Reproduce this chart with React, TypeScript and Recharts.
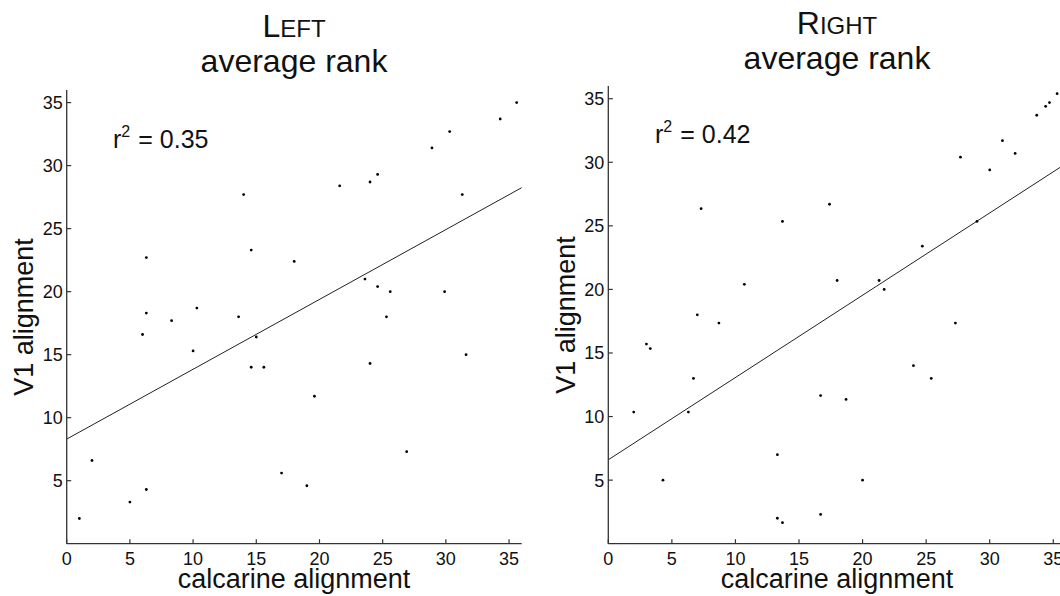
import React from "react"
import { ScatterChart, Scatter, XAxis, YAxis, ReferenceLine } from "recharts"

// calcarine alignment (x) vs V1 alignment (y), average rank
const leftX = [1.0, 2.0, 5.0, 6.3, 6.0, 6.3, 6.3, 8.3, 10.0, 10.3, 13.6, 14.0, 14.6, 14.6, 15.6, 15.0, 17.0, 18.0, 19.0, 19.6, 21.6, 23.6, 24.0, 24.0, 24.6, 24.6, 25.3, 25.6, 26.9, 28.9, 29.9, 30.3, 31.3, 31.6, 34.3, 35.6]
const leftY = [2.0, 6.6, 3.3, 4.3, 16.6, 18.3, 22.7, 17.7, 15.3, 18.7, 18.0, 27.7, 23.3, 14.0, 14.0, 16.4, 5.6, 22.4, 4.6, 11.7, 28.4, 21.0, 14.3, 28.7, 29.3, 20.4, 18.0, 20.0, 7.3, 31.4, 20.0, 32.7, 27.7, 15.0, 33.7, 35.0]

const rightX = [2.0, 3.0, 3.3, 4.3, 6.3, 6.7, 7.0, 7.3, 8.7, 10.7, 13.3, 13.3, 13.7, 13.7, 16.7, 16.7, 17.4, 18.0, 18.7, 20.0, 21.3, 21.7, 24.0, 24.7, 25.4, 27.3, 27.7, 29.0, 30.0, 31.0, 32.0, 33.7, 34.4, 34.7, 35.3]
const rightY = [10.35, 15.7, 15.35, 5.0, 10.35, 13.0, 18.0, 26.35, 17.35, 20.4, 7.0, 2.0, 1.65, 25.35, 11.65, 2.3, 26.7, 20.7, 11.35, 5.0, 20.7, 20.0, 14.0, 23.4, 13.0, 17.35, 30.4, 25.35, 29.4, 31.7, 30.7, 33.7, 34.4, 34.7, 35.4]

// regression line end points at x = 0 and x = 36
const leftFit = [8.3, 28.25]
const rightFit = [6.6, 29.9]

const xTicks = [0, 5, 10, 15, 20, 25, 30, 35]
const yTicks = [5, 10, 15, 20, 25, 30, 35]

const leftPoints = leftX.map((x, i) => ({ x, y: leftY[i] }))
const rightPoints = rightX.map((x, i) => ({ x, y: rightY[i] }))

const FONT = "'Liberation Sans', Arial, Helvetica, sans-serif"
const INK = "#111"

const Dot = (props: any) => <circle cx={props.cx} cy={props.cy} r={1.4} fill="#000" />

const XTick = (props: any) => {
  const { x, y, payload } = props
  return (
    <g>
      <line x1={x} x2={x} y1={y} y2={y - 4.5} stroke="#333" strokeWidth={1.2} />
      <text x={x} y={y + 21} textAnchor="middle" fontSize={18} fill={INK} fontFamily={FONT}>
        {payload.value}
      </text>
    </g>
  )
}

const YTick = (props: any) => {
  const { x, y, payload } = props
  return (
    <g>
      <line x1={x} x2={x + 4.5} y1={y} y2={y} stroke="#333" strokeWidth={1.2} />
      <text x={x - 4} y={y + 6.5} textAnchor="end" fontSize={18} fill={INK} fontFamily={FONT}>
        {payload.value}
      </text>
    </g>
  )
}

function Panel({ data, fit, top, yAxisWidth, right }: any) {
  return (
    <ScatterChart width={540} height={596} margin={{ top, right, bottom: 0, left: 0 }}>
      <XAxis
        type="number"
        dataKey="x"
        domain={[0, 36]}
        ticks={xTicks}
        height={52.3}
        tickSize={0}
        tickMargin={0}
        tickLine={false}
        tick={<XTick />}
        axisLine={{ stroke: "#333", strokeWidth: 1.3 }}
        allowDataOverflow
      />
      <YAxis
        type="number"
        dataKey="y"
        domain={[0, 36]}
        ticks={yTicks}
        width={yAxisWidth}
        tickSize={0}
        tickMargin={0}
        tickLine={false}
        tick={<YTick />}
        axisLine={{ stroke: "#333", strokeWidth: 1.3 }}
        allowDataOverflow
      />
      <ReferenceLine
        segment={[{ x: 0, y: fit[0] }, { x: 36, y: fit[1] }]}
        stroke="#222"
        strokeWidth={1}
        ifOverflow="visible"
      />
      <Scatter data={data} shape={<Dot />} isAnimationActive={false} />
    </ScatterChart>
  )
}

function Labels({ cx, title, rest, titleY, label, r2, r2x, r2y, yLabelX, yMid }: any) {
  return (
    <g fontFamily={FONT} fill={INK}>
      <text x={cx} y={titleY} textAnchor="middle" fontSize={32}>
        {title}
        <tspan fontSize={24}>{rest}</tspan>
      </text>
      <text x={cx} y={titleY + 35} textAnchor="middle" fontSize={32}>
        average rank
      </text>
      <text x={cx} y={588} textAnchor="middle" fontSize={27}>
        {label}
      </text>
      <text
        x={yLabelX}
        y={yMid}
        textAnchor="middle"
        fontSize={27}
        transform={`rotate(-90 ${yLabelX} ${yMid})`}
      >
        V1 alignment
      </text>
      <text x={r2x} y={r2y} fontSize={25}>
        r
        <tspan dy={-11} fontSize={16}>2</tspan>
        <tspan dy={11} dx={8} fontSize={25}>= {r2}</tspan>
      </text>
    </g>
  )
}

export default function App() {
  return (
    <div style={{ position: "relative", width: 1060, height: 596, overflow: "hidden", background: "#fff" }}>
      <style>{`body{margin:0}`}</style>
      <div style={{ position: "absolute", left: 0, top: 0 }}>
        <Panel data={leftPoints} fit={leftFit} top={90} yAxisWidth={66.7} right={18.3} />
      </div>
      <div style={{ position: "absolute", left: 540, top: 0 }}>
        <Panel data={rightPoints} fit={rightFit} top={86} yAxisWidth={68.3} right={14} />
      </div>
      <svg
        width={1060}
        height={596}
        style={{ position: "absolute", left: 0, top: 0, pointerEvents: "none" }}
      >
        <Labels cx={294} title="L" rest="EFT" titleY={36.7} label="calcarine alignment"
          r2="0.35" r2x={113} r2y={147.7} yLabelX={33} yMid={317} />
        <Labels cx={837} title="R" rest="IGHT" titleY={34} label="calcarine alignment"
          r2="0.42" r2x={655} r2y={143.3} yLabelX={575} yMid={315} />
      </svg>
    </div>
  )
}
